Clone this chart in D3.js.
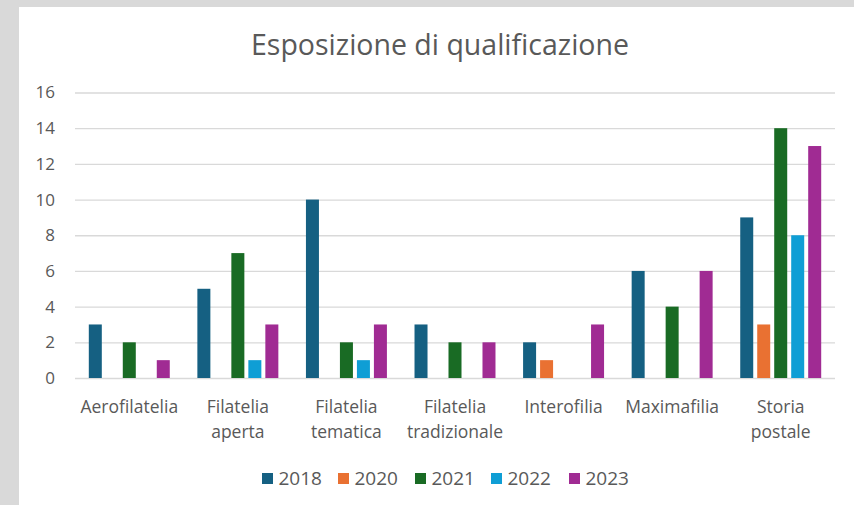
<!DOCTYPE html>
<html>
<head>
<meta charset="utf-8">
<script src="https://cdn.jsdelivr.net/npm/d3@7"></script>
<style>
  html, body { margin: 0; padding: 0; background: #d9d9d9; }
  svg { display: block; }
</style>
</head>
<body>
<svg id="chart" width="854" height="505"></svg>
<script>
const title = "Esposizione di qualificazione";
const categories = ["Aerofilatelia", "Filatelia aperta", "Filatelia tematica", "Filatelia tradizionale", "Interofilia", "Maximafilia", "Storia postale"];
const seriesNames = ["2018", "2020", "2021", "2022", "2023"];
const values2018 = [3, 5, 10, 3, 2, 6, 9];
const values2020 = [0, 0, 0, 0, 1, 0, 3];
const values2021 = [2, 7, 2, 2, 0, 4, 14];
const values2022 = [0, 1, 1, 0, 0, 0, 8];
const values2023 = [1, 3, 3, 2, 3, 6, 13];
const yTicks = [0, 2, 4, 6, 8, 10, 12, 14, 16];
const colors = ["#156082", "#E97132", "#196B24", "#0F9ED5", "#A02B93"];

(function () {
const seriesValues = [values2018, values2020, values2021, values2022, values2023];
const data = categories.map((c, i) => ({
  category: c,
  values: seriesNames.map((s, j) => ({ series: s, value: seriesValues[j][i] }))
}));

const svg = d3.select("#chart");
const font = "'Open Sans', sans-serif";
const textColor = "#595959";

// white panel
svg.append("rect").attr("x", 19).attr("y", 7).attr("width", 854 - 19).attr("height", 505 - 7).attr("fill", "#ffffff");

const mLeft = 75, mRight = 835, mTop = 92.5, mBottom = 378;

const y = d3.scaleLinear().domain([0, 16]).range([mBottom, mTop]);
const x0 = d3.scaleBand().domain(categories).range([mLeft, mRight]).paddingInner(0).paddingOuter(0);
const groupPad = 13.8;
const x1 = d3.scaleBand().domain(seriesNames).range([groupPad, x0.bandwidth() - groupPad]).paddingInner(0.235).paddingOuter(0);
const color = d3.scaleOrdinal().domain(seriesNames).range(colors);

// title
svg.append("text")
  .attr("x", 440).attr("y", 55)
  .attr("text-anchor", "middle")
  .attr("font-family", font).attr("font-size", 28.5)
  .attr("fill", textColor)
  .text(title);

// gridlines + y axis
const yAxis = d3.axisLeft(y).tickValues(yTicks).tickSize(-(mRight - mLeft)).tickPadding(20).tickFormat(d3.format("d"));
const gy = svg.append("g").attr("transform", `translate(${mLeft},0)`).call(yAxis);
gy.select(".domain").remove();
gy.selectAll(".tick line").attr("stroke", "#d9d9d9").attr("stroke-width", 1.3);
gy.selectAll(".tick text").attr("font-family", font).attr("font-size", 17).attr("fill", textColor);

// bars
const groups = svg.append("g").selectAll("g").data(data).join("g")
  .attr("transform", d => `translate(${x0(d.category)},0)`);
groups.selectAll("rect").data(d => d.values.filter(v => v.value > 0)).join("rect")
  .attr("x", d => x1(d.series))
  .attr("width", x1.bandwidth())
  .attr("y", d => y(d.value))
  .attr("height", d => y(0) - y(d.value))
  .attr("fill", d => color(d.series));

// x axis labels
const xAxis = d3.axisBottom(x0).tickSize(0).tickPadding(0);
const gx = svg.append("g").attr("transform", `translate(0,${mBottom})`).call(xAxis);
gx.select(".domain").remove();
gx.selectAll(".tick text").each(function(d) {
  const t = d3.select(this);
  t.text(null).attr("y", 0).attr("dy", null)
    .attr("font-family", font).attr("font-size", 17.5).attr("fill", textColor);
  const words = d.split(" ");
  words.forEach((w, i) => {
    t.append("tspan").attr("x", 0).attr("y", 35 + i * 25).text(w);
  });
});

// legend
const legendX = [262, 338, 415, 491, 569];
const legend = svg.append("g").selectAll("g").data(seriesNames).join("g")
  .attr("transform", (d, i) => `translate(${legendX[i]},473)`);
legend.append("rect").attr("width", 11).attr("height", 11).attr("fill", d => color(d));
legend.append("text").attr("x", 16.5).attr("y", 12)
  .attr("font-family", font).attr("font-size", 19).attr("fill", textColor)
  .text(d => d);
})();
</script>
</body>
</html>
